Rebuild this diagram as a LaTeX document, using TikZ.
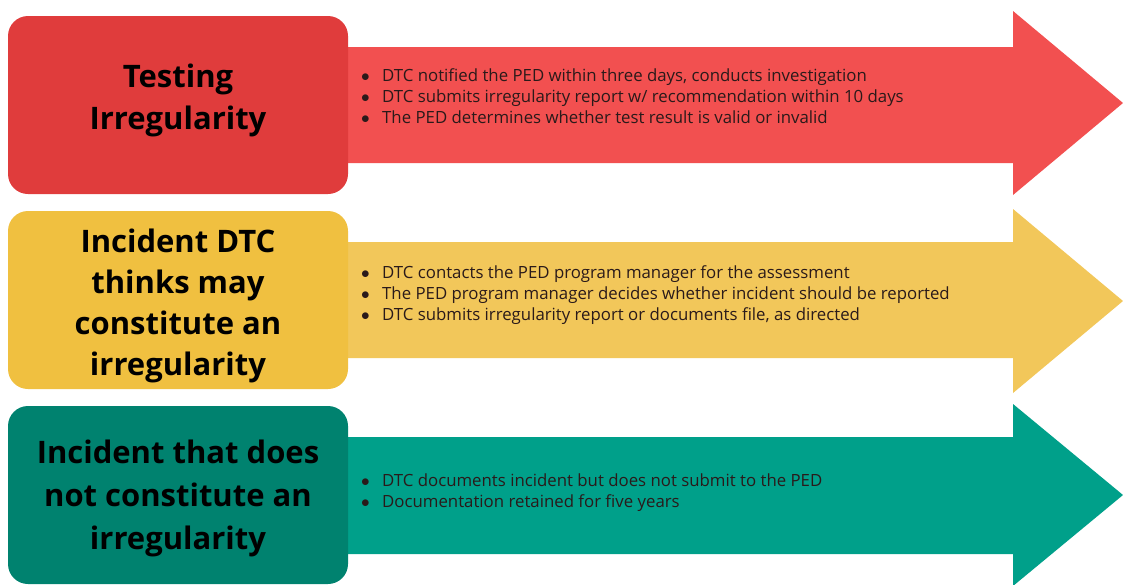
\documentclass[tikz,border=0pt]{standalone}
\usepackage{fontspec}
\setmainfont{Open Sans}
\usetikzlibrary{positioning}

\definecolor{redbox}{HTML}{E03C3C}
\definecolor{redarrow}{HTML}{F25050}
\definecolor{yellowbox}{HTML}{F0C040}
\definecolor{yellowarrow}{HTML}{F2C75A}
\definecolor{greenbox}{HTML}{00826F}
\definecolor{greenarrow}{HTML}{00A08A}
\definecolor{bodytext}{HTML}{2A1A1A}

\newcommand{\bul}{\makebox[21pt][l]{$\bullet$}}

\begin{document}
\begin{tikzpicture}[
  x=1pt, y=-1pt,
  titlebox/.style={rectangle, rounded corners=20pt, minimum width=340pt, minimum height=178pt, inner sep=0pt},
  titletext/.style={align=center, inner sep=0pt, text=black, font=\fontsize{31}{42}\selectfont\bfseries},
  bullets/.style={anchor=west, align=left, inner sep=0pt, text=bodytext,
    font=\fontsize{16.8}{21}\selectfont},
  ]
\useasboundingbox (0,0) rectangle (1123,584);

% arrows
\fill[redarrow] (340,47) -- (1013,47) -- (1013,11) -- (1123,103) -- (1013,195) -- (1013,163) -- (340,163) -- cycle;
\fill[yellowarrow] (340,242) -- (1013,242) -- (1013,209) -- (1123,301) -- (1013,393) -- (1013,358) -- (340,358) -- cycle;
\fill[greenarrow] (340,437) -- (1013,437) -- (1013,404) -- (1123,495) -- (1013,586) -- (1013,554) -- (340,554) -- cycle;

% boxes
\node[titlebox, fill=redbox] (testing) at (178,105) {};
\node[titlebox, fill=yellowbox] (maybe) at (178,300) {};
\node[titlebox, fill=greenbox] (notirr) at (178,495) {};

\node[titletext] (testingtitle) at (178,100) {Testing\\Irregularity};
\node[titletext, font=\fontsize{31}{41}\selectfont\bfseries] (maybetitle) at (178,306) {Incident DTC\\thinks may\\constitute an\\irregularity};
\node[titletext, font=\fontsize{31}{43}\selectfont\bfseries] (notirrtitle) at (178,498) {Incident that does\\not constitute an\\irregularity};

% bullet lists
\node[bullets] (testinglist) at (361,96) {\bul DTC notified the PED within three days, conducts investigation\\
  \bul DTC submits irregularity report w/ recommendation within 10 days\\
  \bul The PED determines whether test result is valid or invalid};
\node[bullets] (maybelist) at (361,295) {\bul DTC contacts the PED program manager for the assessment\\
  \bul The PED program manager decides whether incident should be reported\\
  \bul DTC submits irregularity report or documents file, as directed};
\node[bullets] (notirrlist) at (361,493) {\bul DTC documents incident but does not submit to the PED\\
  \bul Documentation retained for five years};

\end{tikzpicture}
\end{document}
